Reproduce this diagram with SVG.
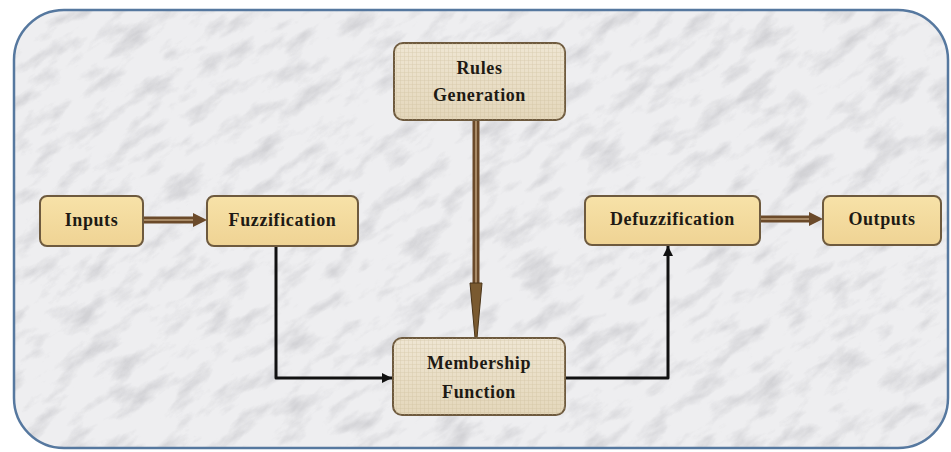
<svg xmlns="http://www.w3.org/2000/svg" width="951" height="452" viewBox="0 0 951 452">
  <style>
    .lbl { font-family: "Liberation Serif", "Times New Roman", serif; font-weight: bold; font-size: 18px; fill: #1e1a14; text-anchor: middle; letter-spacing: 0.6px; }
    .yel { fill: url(#gYel); stroke: #6e5a3e; stroke-width: 2; }
    .bei { fill: url(#gBei); stroke: #6e5a3e; stroke-width: 2; }
    .blk { fill: none; stroke: #111; stroke-width: 3; stroke-linejoin: round; }
    .brOut { fill: none; stroke: #6b4a2a; stroke-width: 7; }
    .brIn { fill: none; stroke: #a88a66; stroke-width: 2; }
  </style>
  <defs>
    <linearGradient id="gYel" x1="0" y1="0" x2="0" y2="1">
      <stop offset="0" stop-color="#f7e2a8"/>
      <stop offset="1" stop-color="#efd394"/>
    </linearGradient>
    <linearGradient id="gBei" x1="0" y1="0" x2="0" y2="1">
      <stop offset="0" stop-color="#efe6d3"/>
      <stop offset="1" stop-color="#e4d7bb"/>
    </linearGradient>
    <pattern id="grid" width="4" height="4" patternUnits="userSpaceOnUse">
      <path d="M0 0.5H4M0.5 0V4" stroke="#c9b893" stroke-width="0.5" opacity="0.5"/>
    </pattern>
    <filter id="marble" x="0" y="0" width="100%" height="100%">
      <feTurbulence type="fractalNoise" baseFrequency="0.025 0.06" numOctaves="5" seed="11" result="n"/>
      <feColorMatrix in="n" type="matrix" values="0 0 0 0 0.5  0 0 0 0 0.5  0 0 0 0 0.53  -2.6 0 0 0 1.35" result="g"/>
      <feComposite in="g" in2="SourceGraphic" operator="in"/>
    </filter>
    <marker id="ahB" viewBox="0 0 10 10" refX="10" refY="5" markerWidth="11" markerHeight="10" orient="auto" markerUnits="userSpaceOnUse">
      <path d="M0 0L10 5L0 10Z" fill="#111"/>
    </marker>
    <clipPath id="frameClip">
      <rect x="14" y="10" width="934" height="438" rx="50" ry="50"/>
    </clipPath>
  </defs>

  <rect x="0" y="0" width="951" height="452" fill="#ffffff"/>
  <g id="frame">
    <rect x="14" y="10" width="934" height="438" rx="50" ry="50" fill="#eeeef0"/>
    <g clip-path="url(#frameClip)" opacity="0.55">
      <rect x="-200" y="-300" width="1400" height="1100" fill="#fff" filter="url(#marble)" transform="rotate(-35 475 226)"/>
    </g>
    <rect x="14" y="10" width="934" height="438" rx="50" ry="50" fill="none" stroke="#56789f" stroke-width="2.5"/>
  </g>

  <g id="connectors">
    <!-- Inputs -> Fuzzification -->
    <path class="brOut" d="M143 220H196"/>
    <path class="brIn" d="M143 220H196"/>
    <path d="M193 213L207 220L193 227Z" fill="#6b4a2a"/>
    <!-- Defuzzification -> Outputs -->
    <path class="brOut" d="M760 219H812"/>
    <path class="brIn" d="M760 219H812"/>
    <path d="M809 212L823 219L809 226Z" fill="#6b4a2a"/>
    <!-- Rules -> Membership -->
    <path class="brOut" d="M476 120V285"/>
    <path class="brIn" d="M476 120V285"/>
    <path d="M470 283L482 283L477 338L475 338Z" fill="#7a5a30" stroke="#4a3418" stroke-width="1"/>
    <!-- Fuzzification -> Membership -->
    <path class="blk" d="M276 246V378H392" marker-end="url(#ahB)"/>
    <!-- Membership -> Defuzzification -->
    <path class="blk" d="M565 378H668V246" marker-end="url(#ahB)"/>
  </g>

  <g id="inputs">
    <rect class="yel" x="40" y="196" width="103" height="50" rx="7"/>
    <text class="lbl" x="91.5" y="226">Inputs</text>
  </g>
  <g id="fuzzification">
    <rect class="yel" x="207" y="196" width="151" height="50" rx="7"/>
    <text class="lbl" x="282.5" y="226">Fuzzification</text>
  </g>
  <g id="rules">
    <rect class="bei" x="394" y="43" width="171" height="77" rx="9"/>
    <rect x="394" y="43" width="171" height="77" rx="9" fill="url(#grid)"/>
    <text class="lbl" x="479.5" y="74">Rules</text>
    <text class="lbl" x="479.5" y="101">Generation</text>
  </g>
  <g id="membership">
    <rect class="bei" x="393" y="338" width="172" height="77" rx="9"/>
    <rect x="393" y="338" width="172" height="77" rx="9" fill="url(#grid)"/>
    <text class="lbl" x="479" y="369">Membership</text>
    <text class="lbl" x="479" y="398">Function</text>
  </g>
  <g id="defuzzification">
    <rect class="yel" x="585" y="196" width="175" height="49" rx="7"/>
    <text class="lbl" x="672.5" y="225">Defuzzification</text>
  </g>
  <g id="outputs">
    <rect class="yel" x="823" y="196" width="118" height="49" rx="7"/>
    <text class="lbl" x="882" y="225">Outputs</text>
  </g>
</svg>
